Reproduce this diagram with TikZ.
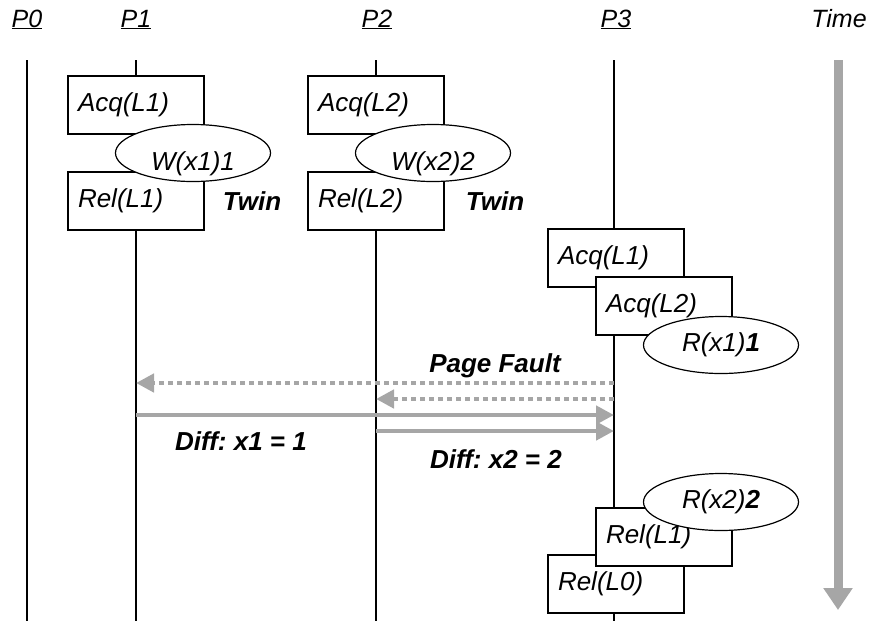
\documentclass[tikz,border=0pt]{standalone}
\usepackage{fontspec}
\setmainfont{Liberation Sans}
\usetikzlibrary{shapes.geometric,arrows.meta}
\definecolor{agray}{RGB}{166,166,166}
\frenchspacing
\begin{document}
\begin{tikzpicture}[x=1pt,y=-1pt,
  every node/.style={font=\fontsize{26}{30}\selectfont\itshape},
  hdr/.style={anchor=base,font=\fontsize{25}{30}\selectfont\itshape},
  pline/.style={line width=1.8pt},
  box/.style={draw,line width=1.2pt,fill=white,minimum height=58pt,text width=116pt,align=left,inner xsep=10pt,inner ysep=0pt},
  oval/.style={draw,ellipse,line width=1.2pt,fill=white,minimum width=155pt,minimum height=57pt,inner sep=0pt},
  bolditxt/.style={anchor=base,font=\fontsize{26}{30}\selectfont\itshape\bfseries},
  garrow/.style={draw=agray,line width=4.5pt,-{Triangle[length=18pt,width=18pt]}},
  gdotted/.style={garrow,dash pattern=on 5pt off 4pt}
]
\useasboundingbox (0,0) rectangle (870,625);
% headers
\node[hdr] (h0) at (27,27) {\underline{P0}};
\node[hdr] (h1) at (136,27) {\underline{P1}};
\node[hdr] (h2) at (377,27) {\underline{P2}};
\node[hdr] (h3) at (616,27) {\underline{P3}};
\node[hdr] (ht) at (839,27) {Time};
% process lines
\coordinate (p0t) at (27,60);  \coordinate (p0b) at (27,621);
\coordinate (p1t) at (136,60); \coordinate (p1b) at (136,621);
\coordinate (p2t) at (376,60); \coordinate (p2b) at (376,621);
\coordinate (p3t) at (614,60); \coordinate (p3b) at (614,621);
\draw[pline] (p0t) -- (p0b);
\draw[pline] (p1t) -- (p1b);
\draw[pline] (p2t) -- (p2b);
\draw[pline] (p3t) -- (p3b);
% time arrow
\coordinate (tt) at (838,60); \coordinate (tb) at (838,610);
\draw[draw=agray,line width=9pt,-{Triangle[length=22pt,width=28pt]}] (tt) -- (tb);
% P1
\node[box] (a1) at (136,105) {Acq(L1)};
\node[box] (r1) at (136,201) {Rel(L1)};
\node[oval] (w1) at (193,153) {\raisebox{-17pt}[0pt][0pt]{W(x1)1}};
\node[bolditxt] (tw1) at (252,210) {Twin};
% P2
\node[box] (a2) at (376,105) {Acq(L2)};
\node[box] (r2) at (376,201) {Rel(L2)};
\node[oval] (w2) at (433,153) {\raisebox{-17pt}[0pt][0pt]{W(x2)2}};
\node[bolditxt] (tw2) at (495,210) {Twin};
% P3
\node[box] (a31) at (616,258) {Acq(L1)};
\node[box] (a32) at (664,306) {Acq(L2)};
\node[oval] (rx1) at (721,345) {R(x1){\bfseries 1}};
\node[box] (r30) at (616,584) {Rel(L0)};
\node[box] (r31) at (664,537) {Rel(L1)};
\node[oval] (rx2) at (721,502) {R(x2){\bfseries 2}};
% messages
\coordinate (m1s) at (614,383); \coordinate (m1e) at (136,383);
\coordinate (m2s) at (614,399); \coordinate (m2e) at (376,399);
\coordinate (m3s) at (136,415); \coordinate (m3e) at (614,415);
\coordinate (m4s) at (376,431); \coordinate (m4e) at (614,431);
\draw[gdotted] (m1s) -- (m1e);
\draw[gdotted] (m2s) -- (m2e);
\draw[garrow] (m3s) -- (m3e);
\draw[garrow] (m4s) -- (m4e);
\node[bolditxt] (pf) at (495,372) {Page Fault};
\node[bolditxt] (d1) at (241,450) {Diff: x1 = 1};
\node[bolditxt] (d2) at (496,468) {Diff: x2 = 2};
\end{tikzpicture}
\end{document}
